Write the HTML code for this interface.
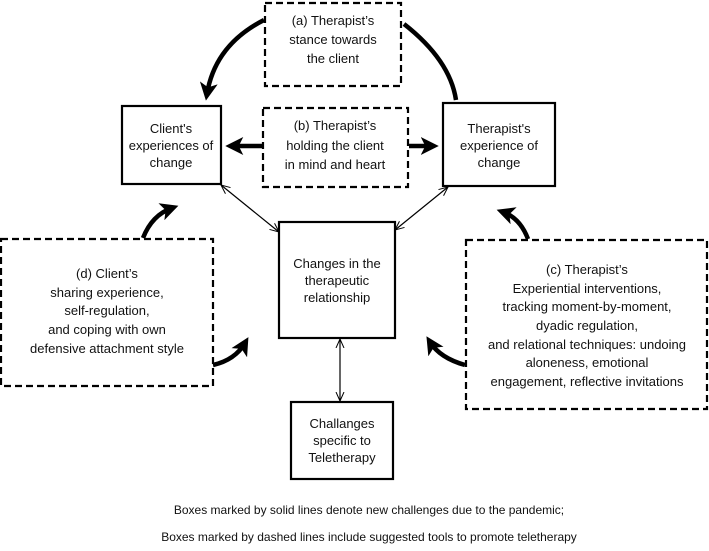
<!DOCTYPE html>
<html><head><meta charset="utf-8"><style>
body{margin:0;background:#fff;}
svg text{font-family:"Liberation Sans",sans-serif;font-size:13px;fill:#111;text-anchor:middle;}
</style></head><body>
<svg width="709" height="546" viewBox="0 0 709 546" xmlns="http://www.w3.org/2000/svg">
<defs>
<marker id="big" markerWidth="4" markerHeight="4" refX="2.5" refY="2" orient="auto" markerUnits="strokeWidth"><path d="M0,0 L4,2 L0,4 L1,2 Z" fill="#000"/></marker>
<marker id="thin" markerWidth="10" markerHeight="10" refX="9" refY="5" orient="auto-start-reverse" markerUnits="userSpaceOnUse"><path d="M0,1 L9,5 L0,9" fill="none" stroke="#000" stroke-width="1"/></marker>
</defs>
<g fill="none" stroke="#000" stroke-width="2.2" stroke-dasharray="7,4">
<rect x="265" y="3" width="136" height="83"/>
<rect x="263" y="108" width="145" height="79"/>
<rect x="1" y="239" width="212" height="147"/>
<rect x="466" y="240" width="241" height="169"/>
</g>
<g fill="none" stroke="#000" stroke-width="2.2">
<rect x="122" y="106" width="99" height="78"/>
<rect x="443" y="103" width="112" height="83"/>
<rect x="279" y="222" width="116" height="116"/>
<rect x="291" y="402" width="102" height="77"/>
</g>
<g fill="none" stroke="#000" stroke-width="1.2">
<line x1="221" y1="185" x2="279" y2="232" marker-start="url(#thin)" marker-end="url(#thin)"/>
<line x1="448" y1="187" x2="395" y2="230" marker-start="url(#thin)" marker-end="url(#thin)"/>
<line x1="340" y1="339" x2="340" y2="401" marker-start="url(#thin)" marker-end="url(#thin)"/>
</g>
<g fill="none" stroke="#000" stroke-width="4.5">
<path d="M264,20 Q215,45 207,94" marker-end="url(#big)"/>
<path d="M456,100 Q450,60 404,24"/>
<path d="M262,146 L232,146" marker-end="url(#big)"/>
<path d="M409,146 L432,146" marker-end="url(#big)"/>
<path d="M143,238 Q152,215 172,208" marker-end="url(#big)"/>
<path d="M213,365 Q235,360 245,343" marker-end="url(#big)"/>
<path d="M528,239 Q520,218 503,212" marker-end="url(#big)"/>
<path d="M465,365 Q440,358 430,342" marker-end="url(#big)"/>
</g>
<text x="333" y="25">(a) Therapist’s</text>
<text x="333" y="44">stance towards</text>
<text x="333" y="63">the client</text>
<text x="335" y="130">(b)  Therapist’s</text>
<text x="335" y="150">holding the client</text>
<text x="335" y="169">in mind and heart</text>
<text x="171" y="133">Client's</text>
<text x="171" y="150">experiences of</text>
<text x="171" y="167">change</text>
<text x="499" y="133">Therapist's</text>
<text x="499" y="150">experience of</text>
<text x="499" y="167">change</text>
<text x="337" y="268">Changes in the</text>
<text x="337" y="285">therapeutic</text>
<text x="337" y="302">relationship</text>
<text x="342" y="428">Challanges</text>
<text x="342" y="445">specific to</text>
<text x="342" y="462">Teletherapy</text>
<text x="107" y="278">(d)  Client’s</text>
<text x="107" y="297">sharing experience,</text>
<text x="107" y="315">self-regulation,</text>
<text x="107" y="334">and coping with own</text>
<text x="107" y="353">defensive attachment style</text>
<text x="587" y="274">(c)  Therapist’s</text>
<text x="587" y="293">Experiential interventions,</text>
<text x="587" y="311">tracking moment-by-moment,</text>
<text x="587" y="330">dyadic regulation,</text>
<text x="587" y="349">and relational techniques: undoing</text>
<text x="587" y="367">aloneness, emotional</text>
<text x="587" y="386">engagement, reflective invitations</text>
<text x="369" y="514" style="font-size:12px">Boxes marked by solid lines denote new challenges due to the pandemic;</text>
<text x="369" y="541" style="font-size:12px">Boxes marked by dashed lines include suggested tools to promote teletherapy</text>
</svg>
</body></html>
